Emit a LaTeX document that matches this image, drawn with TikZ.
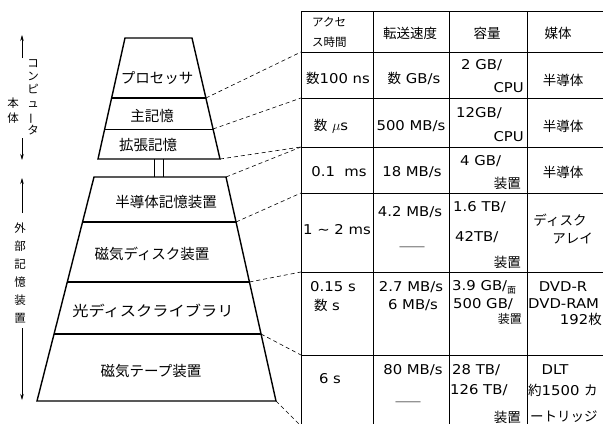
\documentclass[tikz,border=0pt]{standalone}
\usepackage{graphicx}
\usepackage{fontspec}
\setmainfont{DejaVu Sans}[FakeStretch=1.1]
\newfontfamily\jp{Noto Sans CJK JP}
\usetikzlibrary{arrows.meta}
\begin{document}
\begin{tikzpicture}[x=1pt,y=-1pt,
  pyr/.style={line width=1.4pt,line join=miter},
  divthick/.style={line width=1.1pt},
  divthin/.style={line width=0.4pt},
  grid/.style={line width=0.7pt},
  lead/.style={dash pattern=on 4pt off 3pt,line width=0.6pt},
  lab/.style={font=\jp\fontsize{14.5}{15}\selectfont,inner sep=0pt},
  cell/.style={font=\fontsize{13.5}{14}\selectfont,inner sep=0pt},
  hcell/.style={font=\jp\fontsize{13.5}{14}\selectfont,inner sep=0pt},
  side/.style={inner sep=0pt,align=center},
  arr/.style={-{Stealth[length=6pt,width=3.5pt]},line width=0.6pt}
]
\useasboundingbox (0,0) rectangle (603,424);
\fill[white] (0,0) rectangle (603,424);

% ---------- pyramid: computer body ----------
\coordinate (u1) at (125,38); \coordinate (u2) at (192,38);
\coordinate (u3) at (220,159); \coordinate (u4) at (98,159);
\draw[pyr] (u1) -- (u2) -- (u3) -- (u4) -- cycle;
\coordinate (a1) at (111.6,98); \coordinate (a2) at (205.9,98);
\draw[divthick] (a1) -- (a2);
\coordinate (b1) at (104.7,129); \coordinate (b2) at (213,129);
\draw[divthin] (b1) -- (b2);
% link between the two parts
\coordinate (k1) at (154,159); \coordinate (k2) at (154,177);
\coordinate (k3) at (163,159); \coordinate (k4) at (163,177);
\draw[line width=0.9pt] (k1) -- (k2) (k3) -- (k4);

% ---------- pyramid: external storage ----------
\coordinate (l1) at (94,177); \coordinate (l2) at (226,177);
\coordinate (l3) at (276,401); \coordinate (l4) at (37,401);
\draw[pyr] (l1) -- (l2) -- (l3) -- (l4) -- cycle;
\coordinate (c1) at (82.5,222); \coordinate (c2) at (236,222);
\coordinate (d1) at (67.3,282); \coordinate (d2) at (249.4,282);
\coordinate (e1) at (54,334);   \coordinate (e2) at (261,334);
\draw[divthick] (c1) -- (c2) (d1) -- (d2) (e1) -- (e2);

% pyramid labels
\node[lab] (proc)  at (157,78)  {プロセッサ};
\node[lab] (mainm) at (152,116) {主記憶};
\node[lab] (extm)  at (148,145) {拡張記憶};
\node[lab] (semi)  at (166,202) {半導体記憶装置};
\node[lab] (mdisk) at (152,254) {磁気ディスク装置};
\node[lab] (odisk) at (153,311) {\scalebox{1.12}[1]{光ディスクライブラリ}};
\node[lab] (tape)  at (151,371) {磁気テープ装置};

% ---------- side labels ----------
\coordinate (s1a) at (22,58);  \coordinate (s1b) at (22,35);
\coordinate (s2a) at (22,138); \coordinate (s2b) at (22,160);
\coordinate (s3a) at (22,213); \coordinate (s3b) at (22,178);
\coordinate (s4a) at (22,328); \coordinate (s4b) at (22,400);
\draw[arr] (s1a) -- (s1b);
\draw[arr] (s2a) -- (s2b);
\draw[arr] (s3a) -- (s3b);
\draw[arr] (s4a) -- (s4b);
\node[side,font=\jp\fontsize{11.5}{13.4}\selectfont] (comp) at (33,97)
  {コ\\ン\\ピ\\ュ\\\rotatebox[origin=c]{90}{ー}\\タ};
\node[side,font=\jp\fontsize{11.5}{15}\selectfont] (body) at (13,111) {本\\体};
\node[side,font=\jp\fontsize{11.5}{18}\selectfont] (ext) at (20,273)
  {外\\部\\記\\憶\\装\\置};

% ---------- table grid ----------
\foreach \x in {301,373,449,527} \draw[grid] (\x,11) -- (\x,424);
\foreach \y in {11,98,147,193,272,355} \draw[grid] (301,\y) -- (603,\y);
\draw[line width=1pt] (301,52) -- (603,52);
\coordinate (t52) at (301,52);  \coordinate (t98) at (301,98);
\coordinate (t147) at (301,147); \coordinate (t193) at (301,193);
\coordinate (t272) at (301,272); \coordinate (t355) at (301,355);
\coordinate (t424) at (299,424);

% ---------- leader lines ----------
\draw[lead] (a2) -- (t52);
\draw[lead] (b2) -- (t98);
\draw[lead] (u3) -- (t147);
\draw[lead] (l2) -- (t147);
\draw[lead] (c2) -- (t193);
\draw[lead] (d2) -- (t272);
\draw[lead] (e2) -- (t355);
\draw[lead] (l3) -- (t424);

% ---------- header ----------
\node[hcell,font=\jp\fontsize{11.5}{12}\selectfont,anchor=west] (h1a) at (312,22) {アクセ};
\node[hcell,font=\jp\fontsize{11.5}{12}\selectfont,anchor=west] (h1b) at (312,42) {ス時間};
\node[hcell] (h2) at (410,33) {転送速度};
\node[hcell] (h3) at (487,33) {容量};
\node[hcell] (h4) at (558,33) {媒体};

% ---------- row 1: processor ----------
\node[cell] (r1a) at (338,78) {{\jp 数}100 ns};
\node[cell] (r1b) at (414,78) {{\jp 数} GB/s};
\node[cell,anchor=west] (r1c1) at (461,65) {2 GB/};
\node[cell,anchor=east] (r1c2) at (524,88) {CPU};
\node[cell] (r1d) at (563,80) {\jp 半導体};

% ---------- row 2: main memory ----------
\node[cell] (r2a) at (331,126) {{\jp 数}\ $\mu$s};
\node[cell] (r2b) at (411,126) {500 MB/s};
\node[cell,anchor=west] (r2c1) at (456,113) {12GB/};
\node[cell,anchor=east] (r2c2) at (524,137) {CPU};
\node[cell] (r2d) at (563,126) {\jp 半導体};

% ---------- row 3: semiconductor storage ----------
\node[cell] (r3a) at (339,172) {0.1\ \ ms};
\node[cell] (r3b) at (412,172) {18 MB/s};
\node[cell,anchor=west] (r3c1) at (460,161) {4 GB/};
\node[cell,anchor=east] (r3c2) at (521,183) {\jp 装置};
\node[cell] (r3d) at (563,172) {\jp 半導体};

% ---------- row 4: magnetic disk ----------
\node[cell] (r4a) at (337,230) {1 \textasciitilde\ 2 ms};
\node[cell] (r4b1) at (410,212) {4.2 MB/s};
\node[cell] (r4b2) at (412,250) {\jp ――};
\node[cell,anchor=west] (r4c1) at (453,207) {1.6 TB/};
\node[cell,anchor=west] (r4c2) at (455,237) {42TB/};
\node[cell,anchor=east] (r4c3) at (521,262) {\jp 装置};
\node[cell] (r4d1) at (560,220) {\jp ディスク};
\node[cell,anchor=east] (r4d2) at (593,238) {\jp アレイ};

% ---------- row 5: optical disk library ----------
\node[cell] (r5a1) at (333,287) {0.15 s};
\node[cell] (r5a2) at (327,305) {{\jp 数} s};
\node[cell] (r5b1) at (411,287) {2.7 MB/s};
\node[cell] (r5b2) at (413,305) {6 MB/s};
\node[cell,anchor=west] (r5c1) at (452,287) {3.9 GB/\raisebox{-3pt}{\jp\fontsize{9}{9}\selectfont 面}};
\node[cell,anchor=west] (r5c2) at (453,304) {500 GB/};
\node[cell,font=\jp\fontsize{12}{12}\selectfont,anchor=east] (r5c3) at (522,319) {装置};
\node[cell] (r5d1) at (563,287) {DVD-R};
\node[cell,anchor=west] (r5d2) at (528,304) {DVD-RAM};
\node[cell,anchor=east] (r5d3) at (602,319) {192{\jp 枚}};

% ---------- row 6: magnetic tape ----------
\node[cell] (r6a) at (330,379) {6 s};
\node[cell] (r6b1) at (413,370) {80 MB/s};
\node[cell] (r6b2) at (408,405) {\jp ――};
\node[cell,anchor=west] (r6c1) at (452,370) {28 TB/};
\node[cell,anchor=west] (r6c2) at (450,390) {126 TB/};
\node[cell,anchor=east] (r6c3) at (521,417) {\jp 装置};
\node[cell] (r6d1) at (555,370) {DLT};
\node[cell,anchor=west] (r6d2) at (528,390) {{\jp 約}1500 {\jp カ}};
\node[cell,anchor=west] (r6d3) at (530,417) {\jp ートリッジ};
\end{tikzpicture}
\end{document}
